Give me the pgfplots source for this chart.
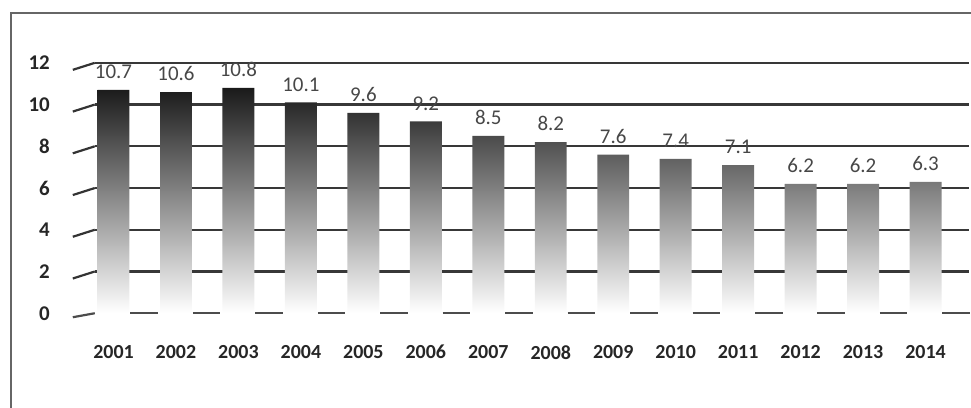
\documentclass[border=0pt]{standalone}
\usepackage{pgfplots}
\pgfplotsset{compat=1.18}
\usepackage{fontspec}
\setmainfont{Carlito}

\begin{document}
\begin{tikzpicture}
  \begin{axis}[
    scale only axis,
    width=438pt, height=125.5pt,
    xmin=-0.30, xmax=13.69,
    ymin=0, ymax=12,
    ytick={2,4,...,12},
    extra y ticks={0},
    extra y tick style={grid=none},
    xtick={0,...,13},
    xticklabels={2001,2002,2003,2004,2005,2006,2007,2008,2009,2010,2011,2012,2013,2014},
    axis line style={draw=none},
    major tick length=0pt,
    ymajorgrids,
    grid style={black!78, line width=1.1pt},
    yticklabel style={xshift=-19pt, font=\fontsize{10.5}{12}\selectfont\bfseries, text=black!85},
    xticklabel style={yshift=-12.5pt, font=\fontsize{10}{12}\selectfont\bfseries, text=black!85},
    /pgf/number format/assume math mode=true,
    clip=false,
  ]

    % bars with their value labels
    \addplot[
      ybar, bar width=16pt, draw=none,
      top color=black!90, middle color=black!62, bottom color=white,
      nodes near coords,
      nodes near coords style={font=\fontsize{10.5}{12}\selectfont, text=black!72, yshift=2pt,
        /pgf/number format/.cd, fixed, fixed zerofill, precision=1},
    ] coordinates {
      (0, 10.7)
      (1, 10.6)
      (2, 10.8)
      (3, 10.1)
      (4, 9.6)
      (5, 9.2)
      (6, 8.5)
      (7, 8.2)
      (8, 7.6)
      (9, 7.4)
      (10, 7.1)
      (11, 6.2)
      (12, 6.2)
      (13, 6.3)
    };

    % slanted wall ticks
    \pgfplotsinvokeforeach{2,4,...,12}{
      \draw[black!80, line width=1.1pt] ([xshift=-11pt,yshift=-3.5pt]axis cs:-0.30,#1) -- (axis cs:-0.30,#1);
    }
    % floor edge between the bars
    \draw[black!70, line width=1.1pt] ([xshift=-11pt,yshift=-2pt]axis cs:-0.30,0) -- (axis cs:-0.30,0);
    \pgfplotsinvokeforeach{0,...,13}{
      \draw[black!70, line width=1.1pt] (axis cs:#1+0.27,0) -- (axis cs:#1+0.71,0);
    }

    \coordinate (O) at (rel axis cs:0,0);
  \end{axis}

  % outer frame and picture size
  \path[use as bounding box] ([xshift=-47.5pt,yshift=-47pt]O) rectangle ([xshift=438pt,yshift=157pt]O);
  \draw[black!60, line width=1pt] ([xshift=-42pt,yshift=-48pt]O) -- ([xshift=-42pt,yshift=150.5pt]O) -- ([xshift=440pt,yshift=150.5pt]O);
\end{tikzpicture}
\end{document}
